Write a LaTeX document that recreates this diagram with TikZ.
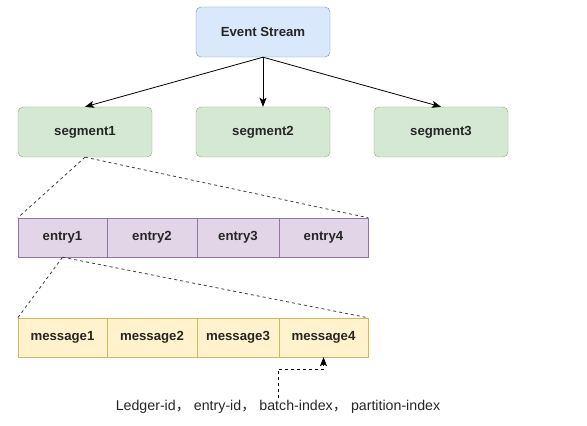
\documentclass[tikz,border=0pt]{standalone}
\usepackage{fontspec}
\setmainfont{Liberation Sans}
\newfontfamily\cjk{Noto Sans CJK SC}
\usetikzlibrary{arrows.meta}
\begin{document}
\begin{tikzpicture}[x=1pt,y=1pt]
 \tikzset{box/.style={draw, rounded corners=5pt, minimum width=134pt, minimum height=50pt, text=black!85, font=\fontsize{13.2}{15}\selectfont\bfseries}}
 \tikzset{cell/.style={draw, minimum height=39pt, inner sep=0pt, text=black!85, font=\fontsize{13.2}{15}\selectfont\bfseries}}
 \tikzset{tip/.style={>={Stealth[length=9pt,width=7pt,inset=2pt]}}}
 \definecolor{blueF}{HTML}{DAE8FC}\definecolor{blueD}{HTML}{6C8EBF}
 \definecolor{greenF}{HTML}{D5E8D4}\definecolor{greenD}{HTML}{82B366}
 \definecolor{purpleF}{HTML}{E1D5E7}\definecolor{purpleD}{HTML}{9673A6}
 \definecolor{yellowF}{HTML}{FFF2CC}\definecolor{yellowD}{HTML}{D6B656}
 \useasboundingbox (0,0) rectangle (587,426);
  \node[box, fill=blueF, draw=blueD] (Stream) at (263,394) {Event Stream};
  \node[box, fill=greenF, draw=greenD] (Seg1) at (85,294) {segment1};
  \node[box, fill=greenF, draw=greenD] (Seg2) at (263,294) {segment2};
  \node[box, fill=greenF, draw=greenD] (Seg3) at (441,294) {segment3};
  \draw[->, tip, thick] (Stream.south) -- (Seg1.north);
  \draw[->, tip, thick] (Stream.south) -- (Seg2.north);
  \draw[->, tip, thick] (Stream.south) -- (Seg3.north);
  % entries
  \node[cell, fill=purpleF, draw=purpleD, minimum width=89pt] (Entry1) at (62.5,188.5) {entry1};
  \node[cell, fill=purpleF, draw=purpleD, minimum width=90pt] (Entry2) at (152,188.5) {entry2};
  \node[cell, fill=purpleF, draw=purpleD, minimum width=82pt] (Entry3) at (238,188.5) {entry3};
  \node[cell, fill=purpleF, draw=purpleD, minimum width=89pt] (Entry4) at (323.5,188.5) {entry4};
  \draw[dashed, thick, black!75] (Seg1.south) -- (Entry1.north west);
  \draw[dashed, thick, black!75] (Seg1.south) -- (Entry4.north east);
  % messages
  \node[cell, fill=yellowF, draw=yellowD, minimum width=89pt] (Msg1) at (62.5,88.5) {message1};
  \node[cell, fill=yellowF, draw=yellowD, minimum width=90pt] (Msg2) at (152,88.5) {message2};
  \node[cell, fill=yellowF, draw=yellowD, minimum width=82pt] (Msg3) at (238,88.5) {message3};
  \node[cell, fill=yellowF, draw=yellowD, minimum width=89pt] (Msg4) at (323.5,88.5) {message4};
  \draw[dashed, thick, black!75] (Entry1.south) -- (Msg1.north west);
  \draw[dashed, thick, black!75] (Entry1.south) -- (Msg4.north east);
  \node[font=\fontsize{14.2}{16}\selectfont, text=black!85, inner sep=2pt] (Key) at (278,19) {Ledger-id{\cjk ，} entry-id{\cjk ，} batch-index{\cjk ，} partition-index};
  \coordinate (Bend) at (300,57);
  \draw[->, tip, dashed, thick] (Key.north) |- (Bend) -| (Msg4.south);
\end{tikzpicture}
\end{document}
